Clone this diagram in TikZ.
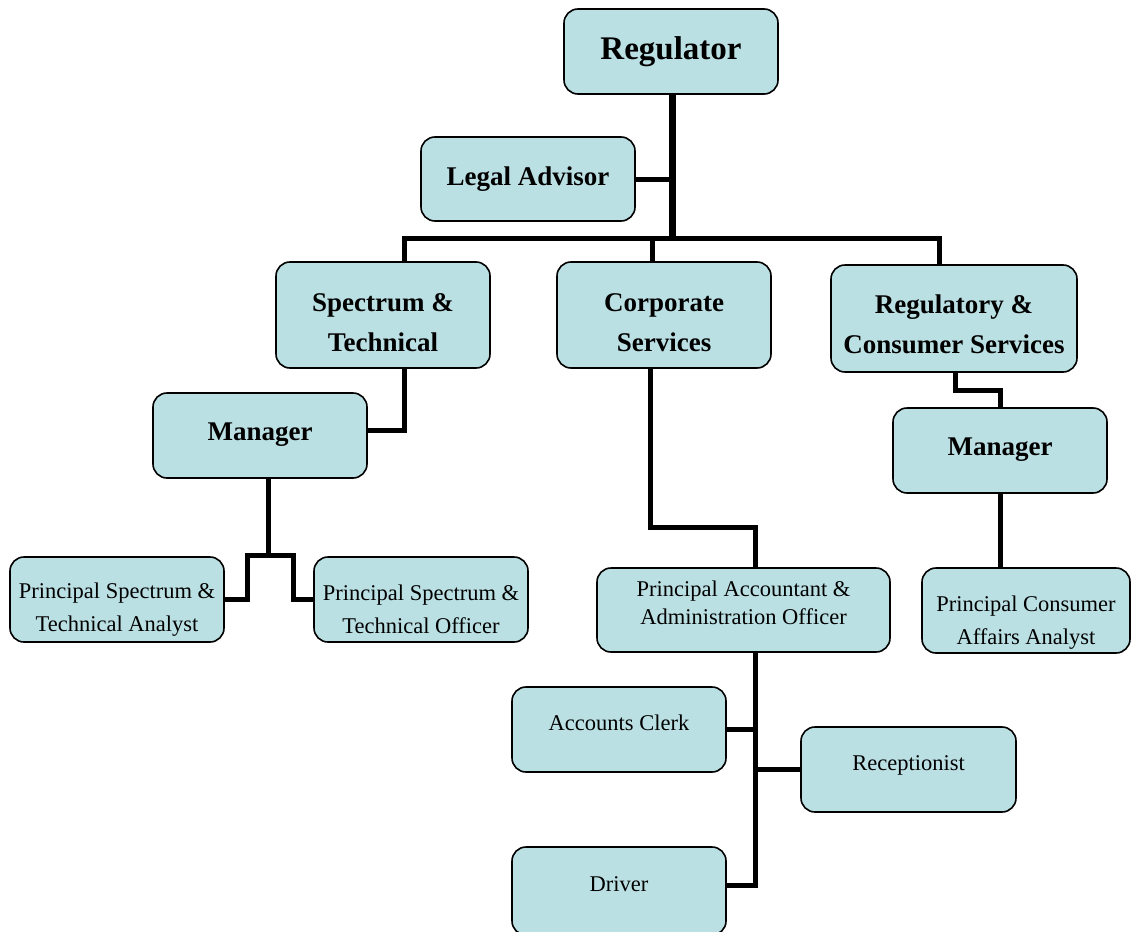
\documentclass[tikz,border=0pt]{standalone}
\usepackage{fontspec}
\setmainfont{Liberation Serif}
\definecolor{boxfill}{RGB}{187,224,227}
\newcommand{\lowerby}[1]{\rule{0pt}{#1}}
\begin{document}
\begin{tikzpicture}[x=1pt,y=-1pt,
  orgbox/.style={draw=black, line width=1.6pt, fill=boxfill, rounded corners=14pt,
    minimum width=214pt, minimum height=85pt, align=center, inner sep=0pt},
  bigt/.style={font=\fontsize{27}{40}\selectfont\bfseries},
  smallt/.style={font=\fontsize{22.5}{33}\selectfont},
  conn/.style={line width=5pt},
  mainconn/.style={line width=7pt}]
\useasboundingbox (0,0) rectangle (1131,931);

% nodes
\node[orgbox, font=\fontsize{33}{40}\selectfont\bfseries] (reg) at (671,51.5) {Regulator};
\node[orgbox, bigt, minimum height=84pt] (legal) at (528,179) {Legal Advisor};
\node[orgbox, bigt, minimum height=106pt] (spec) at (383,315) {\lowerby{34pt}Spectrum \&\\Technical};
\node[orgbox, bigt, minimum height=106pt] (corp) at (664,315) {\lowerby{34pt}Corporate\\Services};
\node[orgbox, bigt, minimum width=246pt, minimum height=107pt] (regc) at (954,318.5) {\lowerby{30pt}Regulatory \&\\Consumer Services};
\node[orgbox, bigt, text depth=8pt] (man1) at (260,435.5) {Manager};
\node[orgbox, bigt, text depth=8pt] (man2) at (1000,450.5) {Manager};
\node[orgbox, smallt] (psta) at (117,599.5) {\lowerby{35pt}Principal Spectrum \&\\Technical Analyst};
\node[orgbox, smallt] (psto) at (421,599.5) {\lowerby{35pt}Principal Spectrum \&\\Technical Officer};
\node[orgbox, font=\fontsize{22.5}{28}\selectfont, minimum width=293pt, minimum height=84pt, text depth=14pt] (paao) at (743.5,610) {Principal Accountant \&\\Administration Officer};
\node[orgbox, smallt, minimum width=208pt] (pcaa) at (1026,610.5) {\lowerby{39pt}Principal Consumer\\Affairs Analyst};
\node[orgbox, smallt, text depth=14pt] (acc) at (619,729.5) {Accounts Clerk};
\node[orgbox, smallt, minimum width=215pt, text depth=12pt] (rec) at (908.5,769.5) {Receptionist};
\node[orgbox, smallt, minimum height=88pt, text depth=14pt] (drv) at (619,891) {Driver};

% helper coordinates
\coordinate (bus) at (672,238);
\coordinate (b1) at (404,238);
\coordinate (b2) at (652,238);
\coordinate (b3) at (939,238);
\coordinate (s1) at (404,430);
\coordinate (m1) at (268,555);
\coordinate (ml) at (247,555);
\coordinate (mr) at (293,555);
\coordinate (c1) at (650,527);
\coordinate (c2) at (755,527);
\coordinate (p1) at (755,885);
\coordinate (r1) at (955,390);

% connectors
\draw[mainconn] (reg.south -| bus) -- (bus);
\draw[conn] (legal.east) -- (legal.east -| bus);
\draw[conn] (b1 |- spec.north) -- (b1) -- (b3) -- (b3 |- regc.north);
\draw[conn] (b2) -- (b2 |- corp.north);
\draw[conn] (s1 |- spec.south) -- (s1) -- (s1 -| man1.east);
\draw[conn] (m1 |- man1.south) -- (m1);
\draw[conn] (psta.east) -- (ml |- psta.east) -- (ml) -- (mr) -- (mr |- psto.west) -- (psto.west);
\draw[conn] (c1 |- corp.south) -- (c1) -- (c2) -- (c2 |- paao.north);
\draw[conn] (p1 |- paao.south) -- (p1) -- (p1 -| drv.east);
\draw[conn] (acc.east) -- (acc.east -| p1);
\draw[conn] (rec.west) -- (rec.west -| p1);
\draw[conn] (r1 |- regc.south) -- (r1) -- (r1 -| man2.north) -- (man2.north);
\draw[conn] (man2.south) -- (man2.south |- pcaa.north);
\end{tikzpicture}
\end{document}
